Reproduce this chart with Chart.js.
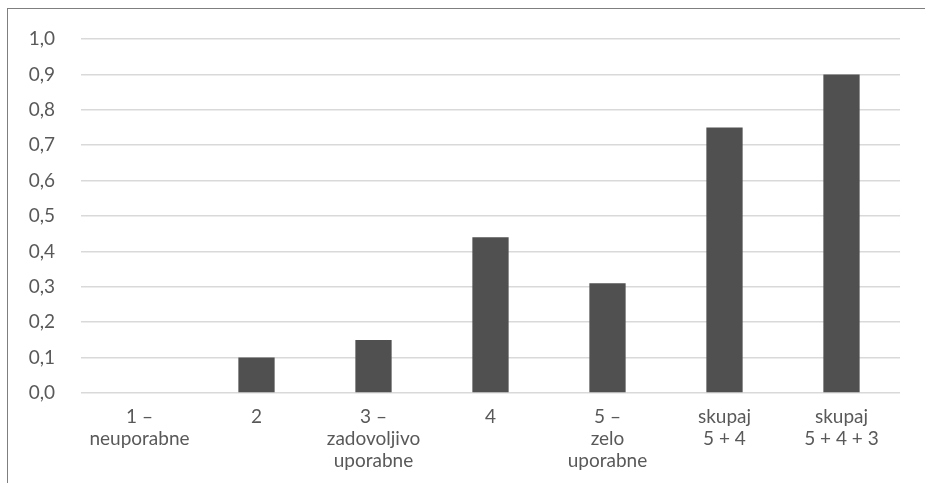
<!DOCTYPE html>
<html>
<head>
<meta charset="utf-8">
<script src="https://cdn.jsdelivr.net/npm/chart.js@4/dist/chart.umd.min.js"></script>
<style>
  html, body { margin: 0; padding: 0; background: #fff; }
  #wrap { position: relative; width: 925px; height: 483px; overflow: hidden; }
  #frame { position: absolute; left: 7px; top: 8px; width: 1000px; height: 1000px;
           border-top: 1.5px solid #7f7f7f; border-left: 1.5px solid #7f7f7f; box-sizing: border-box; }
  canvas { position: absolute; left: 0; top: 0; }
</style>
</head>
<body>
<div id="wrap">
  <div id="frame"></div>
  <canvas id="c" width="925" height="483"></canvas>
</div>
<script>
// Ocene uporabnosti (categories, each one a list of label lines)
const categories = [
  ['1 –', 'neuporabne'],
  ['2'],
  ['3 –', 'zadovoljivo', 'uporabne'],
  ['4'],
  ['5 –', 'zelo', 'uporabne'],
  ['skupaj', '5 + 4'],
  ['skupaj', '5 + 4 + 3']
];
const shares = [0, 0.10, 0.15, 0.44, 0.31, 0.75, 0.90];
const yTickValues = [0, 0.1, 0.2, 0.3, 0.4, 0.5, 0.6, 0.7, 0.8, 0.9, 1.0];

const textColor = '#595959';
const fontFamily = 'Lato, "Open Sans", sans-serif';

new Chart(document.getElementById('c'), {
  type: 'bar',
  data: {
    labels: categories,
    datasets: [{
      data: shares,
      backgroundColor: '#505050',
      borderWidth: 0,
      barPercentage: 0.62,
      categoryPercentage: 0.5
    }]
  },
  options: {
    responsive: false,
    animation: false,
    layout: { padding: { left: 0, top: 39, right: 25, bottom: 0 } },
    plugins: { legend: { display: false }, tooltip: { enabled: false } },
    scales: {
      x: {
        grid: { display: false, drawTicks: false },
        border: { display: false },
        ticks: {
          color: textColor,
          padding: 13,
          maxRotation: 0,
          autoSkip: false,
          font: { family: fontFamily, size: 19, lineHeight: 22 / 19 }
        },
        afterFit(scale) { scale.height = 90; }
      },
      y: {
        min: 0,
        max: 1.0,
        border: { display: false },
        grid: { color: '#d9d9d9', lineWidth: 1.5, drawTicks: false },
        afterBuildTicks(scale) { scale.ticks = yTickValues.map(v => ({ value: v })); },
        ticks: {
          color: textColor,
          padding: 26,
          font: { family: fontFamily, size: 19 },
          callback: v => v.toFixed(1).replace('.', ',')
        },
        afterFit(scale) { scale.width = 81; }
      }
    }
  }
});
</script>
</body>
</html>
